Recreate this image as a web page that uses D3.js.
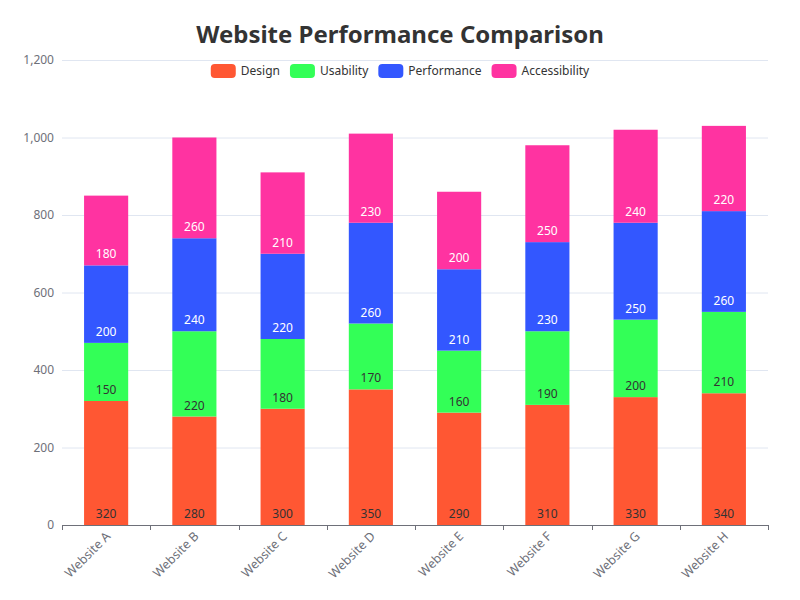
<!DOCTYPE html>
<html><head><meta charset="utf-8">
<script src="https://cdn.jsdelivr.net/npm/d3@7"></script>
<style>body{margin:0;background:#fff;font-family:"Noto Sans","Open Sans",sans-serif;}</style>
</head><body><svg id="c" width="800" height="600"></svg>
<script>
const categories = ["Website A","Website B","Website C","Website D","Website E","Website F","Website G","Website H"];
const seriesNames = ["Design","Usability","Performance","Accessibility"];
const design = [320,280,300,350,290,310,330,340];
const usability = [150,220,180,170,160,190,200,210];
const performance = [200,240,220,260,210,230,250,260];
const accessibility = [180,260,210,230,200,250,240,220];
const colors = ["#FF5733","#33FF57","#3357FF","#FF33A1"];
const labelColors = ["#333","#333","#fff","#fff"];
const yTicks = [0,200,400,600,800,1000,1200];

const svg = d3.select("#c");
const m = {l:62, r:32, t:60, b:75};
const W = 800, H = 600;
const x = d3.scaleBand().domain(categories).range([m.l, W-m.r]).paddingInner(0).paddingOuter(0);
const y = d3.scaleLinear().domain([0,1200]).range([H-m.b, m.t]);

// grid
svg.append("g").selectAll("line").data(yTicks.slice(1)).join("line")
  .attr("x1", m.l).attr("x2", W-m.r).attr("y1", d=>y(d)+0.5).attr("y2", d=>y(d)+0.5)
  .attr("stroke","#E0E6F1").attr("stroke-width",1);

// y axis labels
svg.append("g").selectAll("text").data(yTicks).join("text")
  .attr("x", m.l-8).attr("y", d=>y(d)).attr("dy","0.35em")
  .attr("text-anchor","end").attr("fill","#6E7079").attr("font-size",12)
  .text(d=>d3.format(",")(d));

const data = [design, usability, performance, accessibility];
const stackData = categories.map((c,i)=>{const o={cat:c}; seriesNames.forEach((s,j)=>o[s]=data[j][i]); return o;});
const stacked = d3.stack().keys(seriesNames)(stackData);

const bw = x.bandwidth()*0.5;
stacked.forEach((layer, si)=>{
  const g = svg.append("g");
  g.selectAll("rect").data(layer).join("rect")
    .attr("x", d=>x(d.data.cat)+(x.bandwidth()-bw)/2)
    .attr("y", d=>y(d[1]))
    .attr("width", bw)
    .attr("height", d=>y(d[0])-y(d[1]))
    .attr("fill", colors[si]);
  g.selectAll("text").data(layer).join("text")
    .attr("x", d=>x(d.data.cat)+x.bandwidth()/2)
    .attr("y", d=>y(d[0])-7)
    .attr("text-anchor","middle").attr("font-size",12)
    .attr("fill", labelColors[si])
    .text(d=>d[1]-d[0]);
});

// x axis
const xa = svg.append("g");
xa.append("line").attr("x1",m.l).attr("x2",W-m.r).attr("y1",y(0)+0.5).attr("y2",y(0)+0.5).attr("stroke","#6E7079");
const tickPos = categories.map(c=>x(c)).concat([W-m.r]);
xa.selectAll("line.t").data(tickPos).join("line").attr("class","t")
  .attr("x1",d=>Math.round(d)+0.5).attr("x2",d=>Math.round(d)+0.5).attr("y1",y(0)).attr("y2",y(0)+5).attr("stroke","#6E7079");
xa.selectAll("text").data(categories).join("text")
  .attr("transform", d=>`translate(${x(d)+x.bandwidth()/2+2},${y(0)+9}) rotate(-45)`)
  .attr("text-anchor","end").attr("dy","0.35em").attr("font-size",12.5).attr("fill","#6E7079")
  .text(d=>d);

// title
svg.append("text").attr("x",400).attr("y",43).attr("text-anchor","middle")
  .attr("font-size",24).attr("font-weight","bold").attr("fill","#333")
  .text("Website Performance Comparison");

// legend
const lg = svg.append("g");
const items = [];
let tx = 0;
const tmp = svg.append("text").attr("font-size",12);
seriesNames.forEach(s=>{ tmp.text(s); const w = tmp.node().getComputedTextLength(); items.push({s, x:tx, w}); tx += 25+5+w+10; });
tmp.remove();
const total = tx-10;
const lx0 = 400 - total/2;
items.forEach((it,i)=>{
  lg.append("rect").attr("x", lx0+it.x).attr("y",64).attr("width",25).attr("height",14).attr("rx",4).attr("fill",colors[i]);
  lg.append("text").attr("x", lx0+it.x+30).attr("y",71).attr("dy","0.35em").attr("font-size",12).attr("fill","#333").text(it.s);
});
</script></body></html>
